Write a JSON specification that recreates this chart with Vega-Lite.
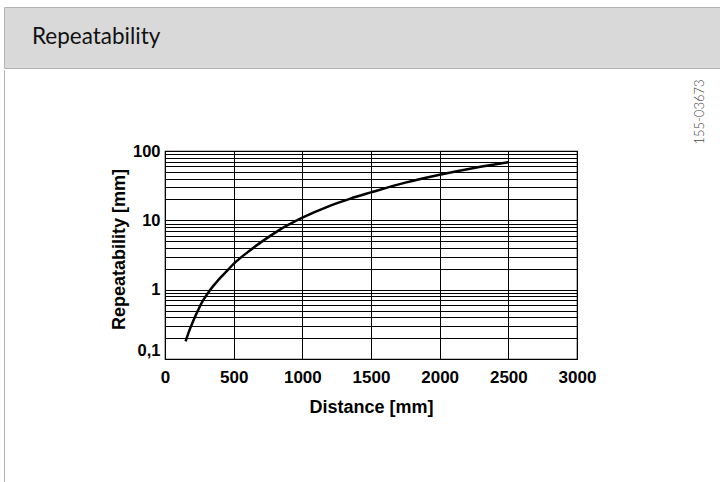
{
  "$schema": "https://vega.github.io/schema/vega-lite/v6.json",
  "padding": {"left": 3, "top": 6, "right": 0, "bottom": 0},
  "background": "white",
  "spacing": 0,
  "config": {"concat": {"spacing": 0}},
  "vconcat": [
    {
      "width": 717,
      "height": 61,
      "view": {"fill": "#d9d9d9", "stroke": "#b4b4b4", "strokeWidth": 1},
      "title": {"text": "Repeatability", "orient": "top", "anchor": "start", "frame": "group", "offset": -39, "dx": 28, "dy": 20, "baseline": "alphabetic", "font": "Lato", "fontSize": 22.5, "fontWeight": "normal", "color": "#111111"},
      "data": {"values": []},
      "mark": {"type": "rule"},
      "encoding": {}
    },
    {
      "spacing": 104,
      "hconcat": [
        {
          "width": 0.01,
          "height": 414,
          "view": {"stroke": "#b4b4b4", "fill": null},
          "data": {"values": []},
          "mark": {"type": "rule"},
          "encoding": {}
        },
        {
          "spacing": 96,
          "hconcat": [
            {
              "spacing": 52,
              "vconcat": [
                {
                  "width": 0,
                  "height": 0,
                  "view": {"stroke": null, "fill": null},
                  "data": {"values": []},
                  "mark": {"type": "rule"},
                  "encoding": {}
                },
                {
                  "width": 412,
                  "height": 208,
                  "view": {"stroke": "#000000", "strokeWidth": 1.2, "fill": null},
                  "data": {"values": [
                    {"distance": 150, "repeatability": 0.18},
                    {"distance": 175, "repeatability": 0.25},
                    {"distance": 207, "repeatability": 0.36},
                    {"distance": 240, "repeatability": 0.5},
                    {"distance": 268, "repeatability": 0.65},
                    {"distance": 300, "repeatability": 0.82},
                    {"distance": 330, "repeatability": 1.0},
                    {"distance": 370, "repeatability": 1.25},
                    {"distance": 415, "repeatability": 1.57},
                    {"distance": 460, "repeatability": 1.95},
                    {"distance": 500, "repeatability": 2.35},
                    {"distance": 600, "repeatability": 3.45},
                    {"distance": 700, "repeatability": 4.85},
                    {"distance": 820, "repeatability": 7.0},
                    {"distance": 1000, "repeatability": 10.9},
                    {"distance": 1200, "repeatability": 16.2},
                    {"distance": 1350, "repeatability": 20.6},
                    {"distance": 1500, "repeatability": 25.3},
                    {"distance": 1750, "repeatability": 35.0},
                    {"distance": 2000, "repeatability": 45.5},
                    {"distance": 2250, "repeatability": 57.0},
                    {"distance": 2500, "repeatability": 69.0}
                  ]},
                  "mark": {"type": "line", "interpolate": "monotone", "color": "#000000", "strokeWidth": 2.5},
                  "encoding": {
                    "x": {
                      "field": "distance",
                      "type": "quantitative",
                      "scale": {"domain": [0, 3000], "nice": false, "zero": false},
                      "axis": {
                        "values": [0, 500, 1000, 1500, 2000, 2500, 3000],
                        "format": "d",
                        "grid": true, "gridColor": "#000000", "gridOpacity": 1, "gridWidth": 1,
                        "ticks": false, "domain": false,
                        "labelFont": "Liberation Sans", "labelFontWeight": "bold", "labelFontSize": 17, "labelColor": "#000000",
                        "labelPadding": 10, "labelFlush": false, "labelOverlap": false,
                        "title": "Distance [mm]", "titleFont": "Liberation Sans", "titleFontSize": 18, "titleFontWeight": "bold", "titleColor": "#000000", "titlePadding": 13
                      }
                    },
                    "y": {
                      "field": "repeatability",
                      "type": "quantitative",
                      "scale": {"type": "log", "domain": [0.1, 100], "nice": false},
                      "axis": {
                        "values": [0.1, 0.2, 0.3, 0.4, 0.5, 0.6, 0.7, 0.8, 0.9, 1, 2, 3, 4, 5, 6, 7, 8, 9, 10, 20, 30, 40, 50, 60, 70, 80, 90, 100],
                        "labelExpr": "datum.value == 0.1 ? '0,1' : (datum.value == 1 ? '1' : (datum.value == 10 ? '10' : (datum.value == 100 ? '100' : '')))",
                        "grid": true, "gridColor": "#000000", "gridOpacity": 1, "gridWidth": 1,
                        "ticks": false, "domain": false,
                        "labelFont": "Liberation Sans", "labelFontWeight": "bold", "labelFontSize": 16.5, "labelColor": "#000000",
                        "labelPadding": 5, "labelFlush": false, "labelOverlap": false,
                        "labelOffset": {"condition": {"test": "datum.value == 0.1", "value": -9}, "value": 0},
                        "title": "Repeatability [mm]", "titleFont": "Liberation Sans", "titleFontSize": 18, "titleFontWeight": "bold", "titleColor": "#000000", "titlePadding": 4,
                        "titleY": 98
                      }
                    }
                  }
                }
              ]
            },
            {
              "width": 0,
              "height": 84,
              "view": {"stroke": null, "fill": null},
              "title": {"text": "155-03673", "orient": "left", "anchor": "middle", "frame": "group", "angle": 270, "baseline": "alphabetic", "offset": 0, "font": "Lato", "fontWeight": 300, "fontSize": 13, "color": "#444444"},
              "data": {"values": []},
              "mark": {"type": "rule"},
              "encoding": {}
            }
          ]
        }
      ]
    }
  ]
}
